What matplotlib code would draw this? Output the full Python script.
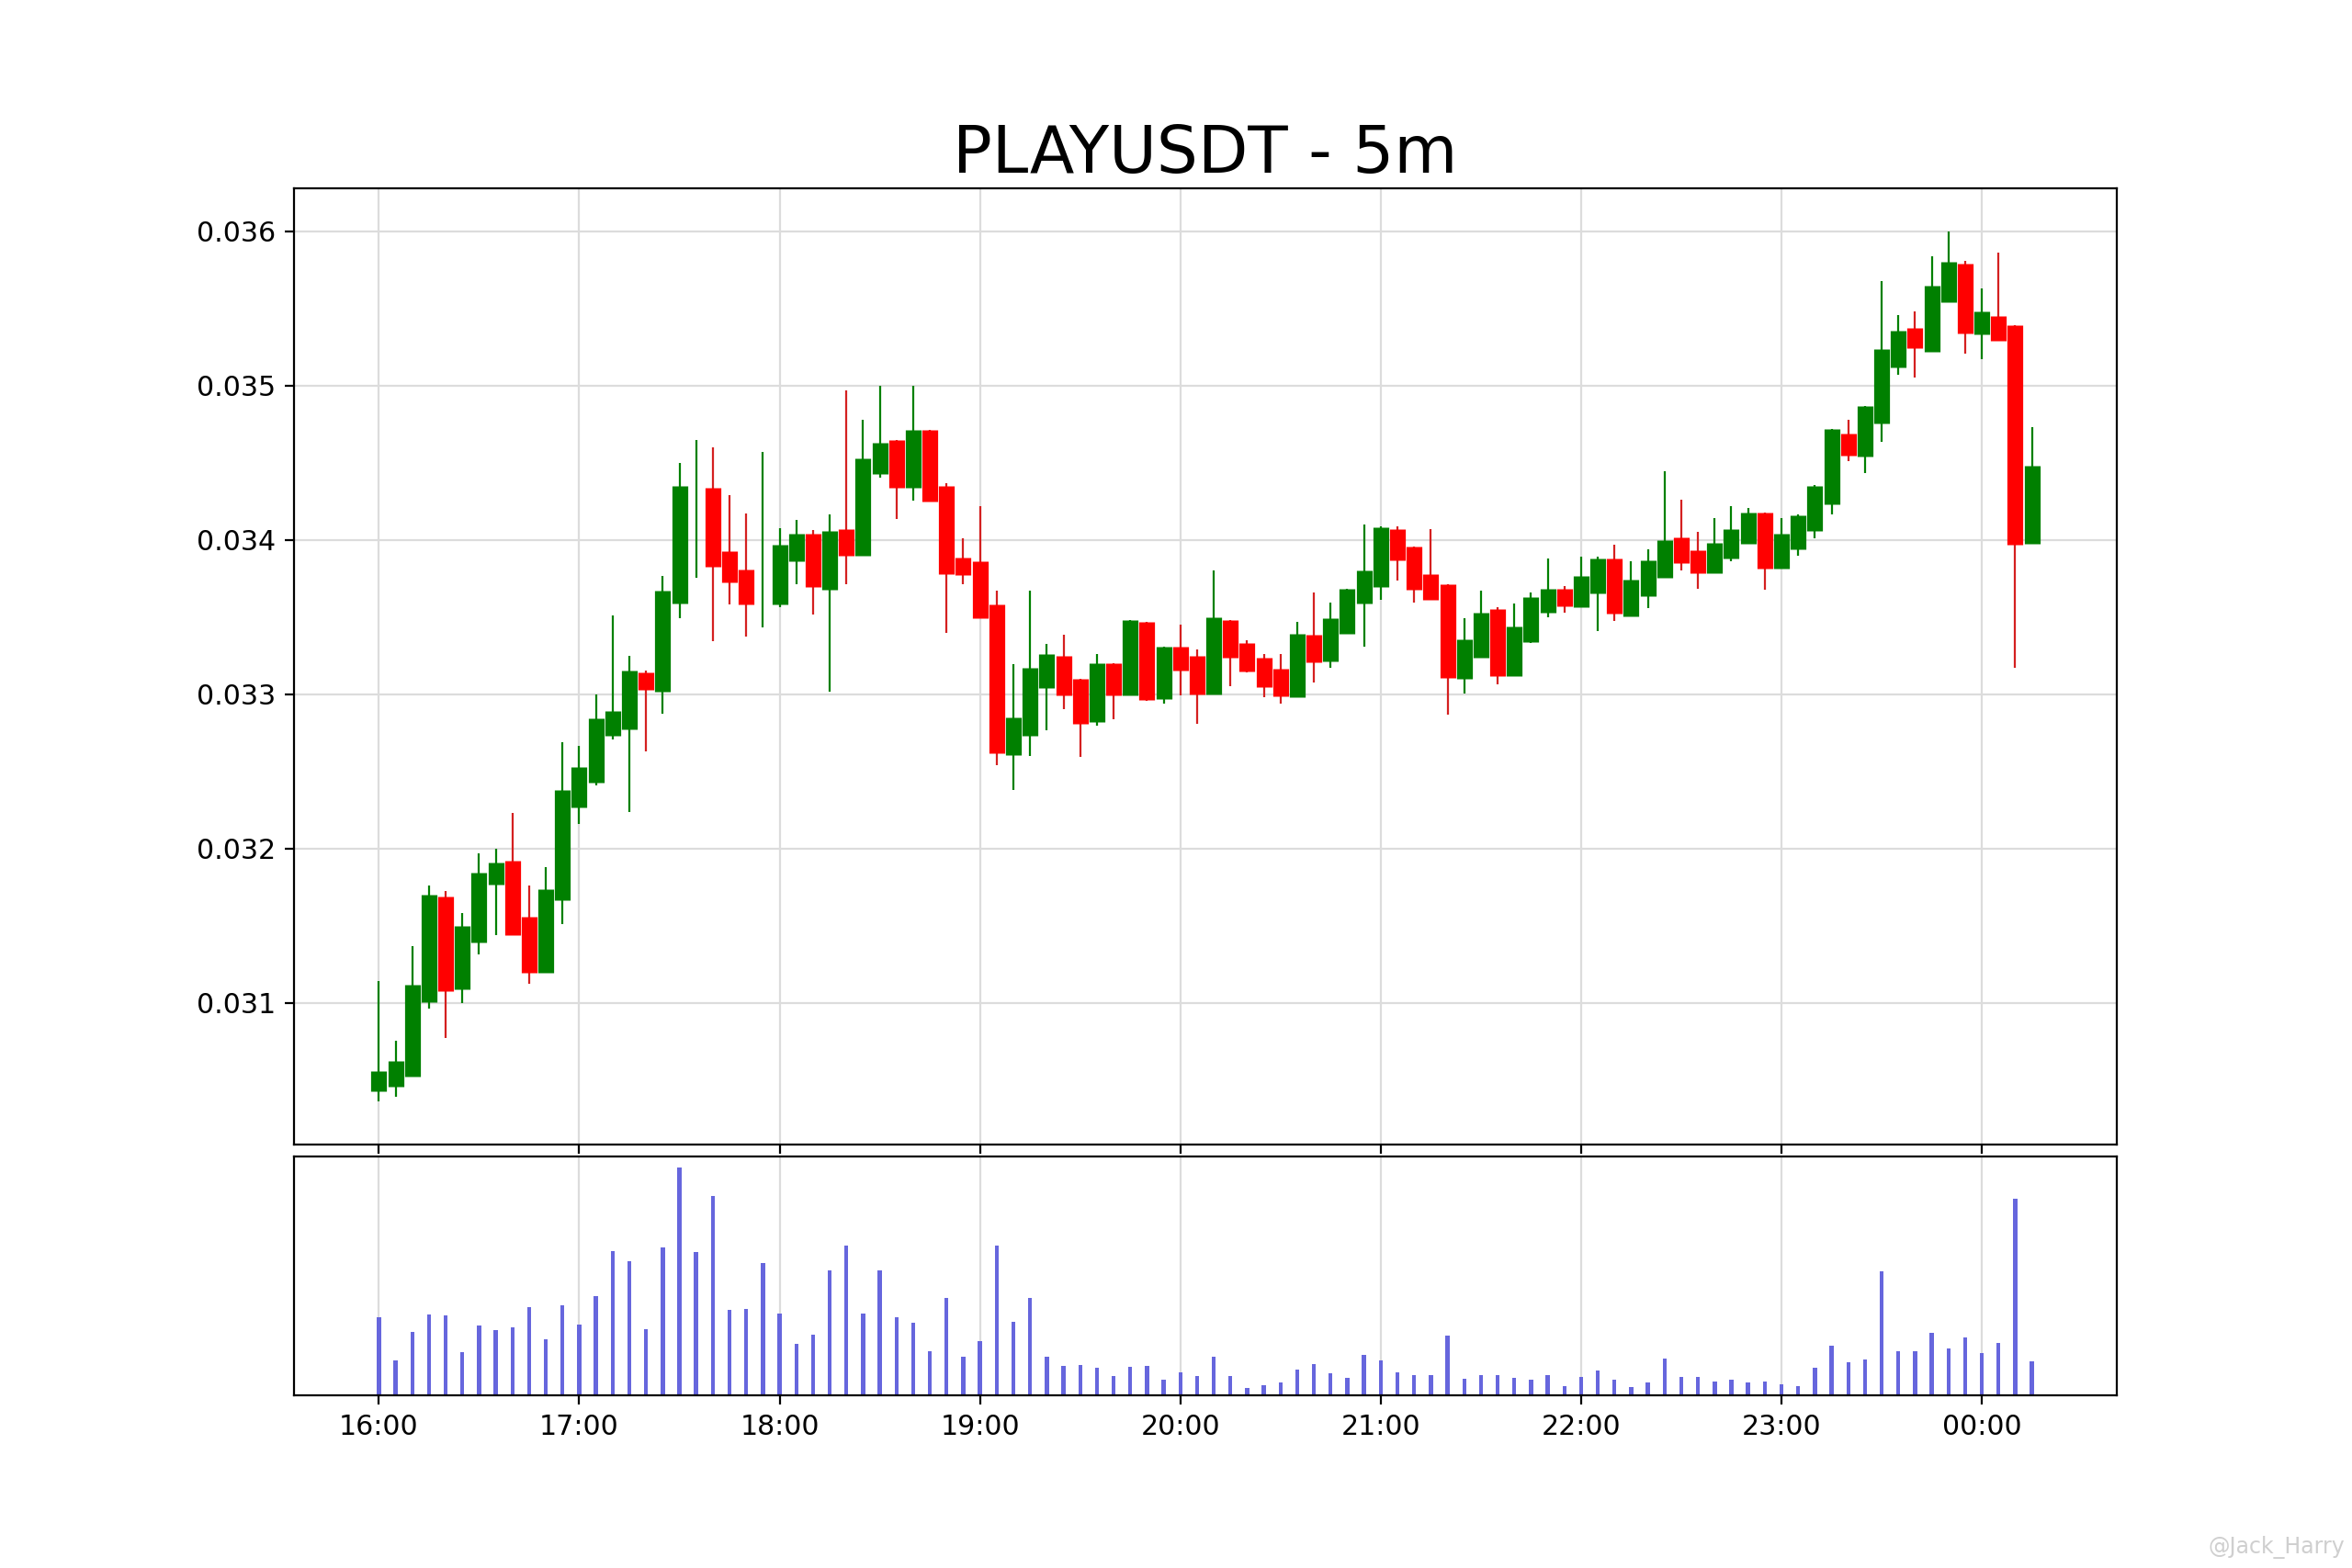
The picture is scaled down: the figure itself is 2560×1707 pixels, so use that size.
import numpy as np
import pandas as pd
import matplotlib
matplotlib.use("Agg")
import matplotlib.pyplot as plt
import matplotlib.dates as mdates
from matplotlib.ticker import MultipleLocator, FormatStrFormatter

# PLAYUSDT 5m candles, 16:00 -> 00:15
opens = [0.030431, 0.030459, 0.030525, 0.031005, 0.031687, 0.031087, 0.031395, 0.031765, 0.031922, 0.031560,
         0.031195, 0.031664, 0.032266, 0.032428, 0.032729, 0.032772, 0.033144, 0.033016, 0.033590, 0.034350,
         0.034341, 0.033930, 0.033807, 0.033584, 0.033584, 0.033861, 0.034039, 0.033679, 0.034070, 0.033900,
         0.034426, 0.034648, 0.034341, 0.034713, 0.034351, 0.033886, 0.033861, 0.033580, 0.032604, 0.032729,
         0.033040, 0.033249, 0.033099, 0.032822, 0.033200, 0.032996, 0.033471, 0.032970, 0.033309, 0.033249,
         0.033000, 0.033481, 0.033333, 0.033240, 0.033164, 0.032984, 0.033386, 0.033214, 0.033392, 0.033590,
         0.033693, 0.034071, 0.033960, 0.033778, 0.033713, 0.033099, 0.033240, 0.033554, 0.033119, 0.033339,
         0.033531, 0.033681, 0.033566, 0.033653, 0.033881, 0.033507, 0.033636, 0.033758, 0.034020, 0.033931,
         0.033782, 0.033881, 0.033976, 0.034180, 0.033812, 0.033941, 0.034059, 0.034233, 0.034692, 0.034540,
         0.034754, 0.035118, 0.035375, 0.035219, 0.035543, 0.035790, 0.035331, 0.035450, 0.035391, 0.033976]
highs = [0.031141, 0.030758, 0.031369, 0.031760, 0.031725, 0.031581, 0.031969, 0.032000, 0.032231, 0.031760,
         0.031880, 0.032689, 0.032668, 0.033000, 0.033511, 0.033252, 0.033153, 0.033765, 0.034500, 0.034648,
         0.034598, 0.034292, 0.034169, 0.034569, 0.034078, 0.034130, 0.034064, 0.034167, 0.034970, 0.034780,
         0.035000, 0.034648, 0.035000, 0.034713, 0.034367, 0.034009, 0.034219, 0.033669, 0.033198, 0.033669,
         0.033328, 0.033388, 0.033099, 0.033259, 0.033200, 0.033479, 0.033471, 0.033309, 0.033451, 0.033289,
         0.033801, 0.033481, 0.033349, 0.033259, 0.033259, 0.033467, 0.033659, 0.033594, 0.033683, 0.034101,
         0.034091, 0.034091, 0.033960, 0.034069, 0.033713, 0.033491, 0.033669, 0.033566, 0.033590, 0.033659,
         0.033879, 0.033699, 0.033891, 0.033891, 0.033970, 0.033861, 0.033941, 0.034448, 0.034259, 0.034051,
         0.034141, 0.034220, 0.034210, 0.034180, 0.034141, 0.034168, 0.034358, 0.034722, 0.034781, 0.034870,
         0.035678, 0.035460, 0.035480, 0.035840, 0.035998, 0.035806, 0.035628, 0.035860, 0.035391, 0.034732]
lows = [0.030365, 0.030393, 0.030525, 0.030965, 0.030776, 0.031000, 0.031315, 0.031440, 0.031440, 0.031122,
        0.031195, 0.031511, 0.032158, 0.032412, 0.032706, 0.032235, 0.032628, 0.032875, 0.033495, 0.033754,
        0.033342, 0.033580, 0.033372, 0.033435, 0.033566, 0.033714, 0.033520, 0.033016, 0.033714, 0.033900,
        0.034405, 0.034134, 0.034256, 0.034250, 0.033396, 0.033714, 0.033491, 0.032541, 0.032379, 0.032600,
        0.032765, 0.032903, 0.032596, 0.032798, 0.032838, 0.032996, 0.032956, 0.032937, 0.032996, 0.032808,
        0.033000, 0.033055, 0.033143, 0.032980, 0.032937, 0.032984, 0.033075, 0.033170, 0.033392, 0.033307,
        0.033614, 0.033739, 0.033596, 0.033610, 0.032867, 0.033006, 0.033240, 0.033065, 0.033119, 0.033333,
        0.033497, 0.033527, 0.033566, 0.033412, 0.033475, 0.033507, 0.033560, 0.033758, 0.033804, 0.033685,
        0.033782, 0.033863, 0.033976, 0.033679, 0.033812, 0.033901, 0.034012, 0.034164, 0.034510, 0.034431,
        0.034635, 0.035068, 0.035054, 0.035219, 0.035543, 0.035207, 0.035173, 0.035292, 0.033171, 0.033976]
closes = [0.030558, 0.030624, 0.031118, 0.031699, 0.031075, 0.031499, 0.031847, 0.031911, 0.031440, 0.031195,
          0.031736, 0.032381, 0.032529, 0.032847, 0.032894, 0.033153, 0.033028, 0.033671, 0.034351, 0.034350,
          0.033827, 0.033728, 0.033584, 0.033584, 0.033969, 0.034039, 0.033698, 0.034060, 0.033900, 0.034529,
          0.034632, 0.034341, 0.034713, 0.034250, 0.033781, 0.033772, 0.033491, 0.032616, 0.032852, 0.033170,
          0.033259, 0.032996, 0.032808, 0.033200, 0.032992, 0.033479, 0.032962, 0.033309, 0.033154, 0.033000,
          0.033500, 0.033240, 0.033149, 0.033048, 0.032990, 0.033392, 0.033210, 0.033491, 0.033683, 0.033802,
          0.034081, 0.033871, 0.033679, 0.033610, 0.033109, 0.033356, 0.033531, 0.033119, 0.033442, 0.033630,
          0.033681, 0.033570, 0.033766, 0.033883, 0.033521, 0.033743, 0.033871, 0.034000, 0.033853, 0.033782,
          0.033984, 0.034071, 0.034180, 0.033812, 0.034042, 0.034160, 0.034348, 0.034722, 0.034546, 0.034870,
          0.035238, 0.035357, 0.035242, 0.035648, 0.035802, 0.035337, 0.035480, 0.035292, 0.033970, 0.034481]
# volume (thousands)
volumes = [256, 115, 207, 265, 262, 142, 227, 213, 223, 288,
           184, 295, 232, 325, 472, 439, 217, 484, 742, 468,
           649, 280, 283, 433, 267, 169, 199, 409, 488, 268,
           409, 254, 237, 145, 318, 127, 177, 488, 241, 319,
           127, 96, 100, 91, 65, 94, 97, 51, 76, 65,
           125, 63, 25, 35, 43, 85, 101, 73, 58, 131,
           115, 75, 67, 67, 196, 55, 66, 67, 58, 51,
           66, 30, 61, 81, 52, 28, 43, 121, 60, 60,
           46, 51, 43, 45, 37, 31, 91, 162, 109, 117,
           406, 143, 145, 205, 154, 190, 139, 172, 640, 112]

symbol = "PLAYUSDT"
interval = "5m"

times = pd.date_range("2023-03-01 16:00", periods=len(closes), freq="5min")
x = mdates.date2num(times.to_pydatetime())

o = np.array(opens)
h = np.array(highs)
l = np.array(lows)
c = np.array(closes)
up = c >= o
body_colors = np.where(up, "green", "red")
wick_colors = np.where(up, "green", "#d42020")

plt.rcParams["xtick.labelsize"] = 10.8
plt.rcParams["ytick.labelsize"] = 10.8

fig = plt.figure(figsize=(12.8, 8.535), dpi=200)
gs = fig.add_gridspec(2, 1, height_ratios=[4, 1], hspace=0.02)
ax = fig.add_subplot(gs[0])
ax_vol = fig.add_subplot(gs[1], sharex=ax)

# candles: thin wick + thick body
ax.vlines(x, l, h, colors=wick_colors, linewidth=0.8)
ax.vlines(x, np.minimum(o, c), np.maximum(o, c), colors=body_colors, linewidth=6.2)
ax.set_title(f"{symbol} - {interval}", fontsize=25.5)
ax.yaxis.set_major_locator(MultipleLocator(0.001))
ax.yaxis.set_major_formatter(FormatStrFormatter("%.3f"))
ax.grid(color="#dcdcdc", linewidth=0.8)
ax.set_axisbelow(True)
plt.setp(ax.get_xticklabels(), visible=False)

# volume
ax_vol.bar(x, volumes, width=1.2 / 1440, color="#6666dd")
ax_vol.set_yticks([])
ax_vol.grid(axis="x", color="#dcdcdc", linewidth=0.8)
ax_vol.set_axisbelow(True)
ax_vol.xaxis.set_major_locator(mdates.HourLocator())
ax_vol.xaxis.set_major_formatter(mdates.DateFormatter("%H:%M"))

fig.text(0.997, 0.013, "@Jack_Harry", ha="right", va="center", color="#cfcfcf", fontsize=8.5)

fig.savefig("out.png", dpi=200)
